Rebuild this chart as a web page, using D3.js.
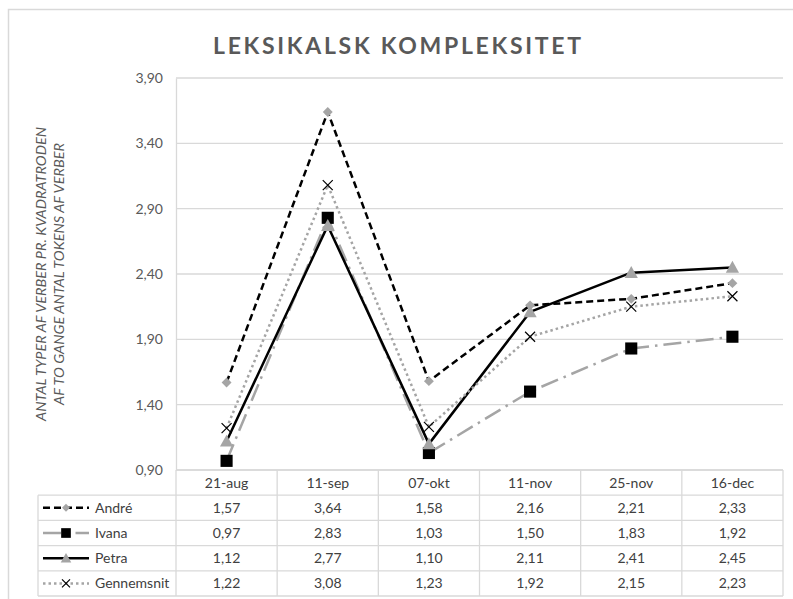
<!DOCTYPE html>
<html>
<head>
<meta charset="utf-8">
<script src="https://cdn.jsdelivr.net/npm/d3@7"></script>
<style>
  html, body { margin: 0; padding: 0; background: #fff; }
  svg { display: block; font-family: Lato, "Open Sans", sans-serif; }
</style>
</head>
<body>
<svg id="chart" width="793" height="599"></svg>
<script>
// Datoer for målingerne
const categories = ["21-aug", "11-sep", "07-okt", "11-nov", "25-nov", "16-dec"];

// Serier: antal typer af verber pr. kvadratroden af to gange antal tokens
const andre      = [1.57, 3.64, 1.58, 2.16, 2.21, 2.33];
const ivana      = [0.97, 2.83, 1.03, 1.50, 1.83, 1.92];
const petra      = [1.12, 2.77, 1.10, 2.11, 2.41, 2.45];
const gennemsnit = [1.22, 3.08, 1.23, 1.92, 2.15, 2.23];

const seriesNames = ["André", "Ivana", "Petra", "Gennemsnit"];
const yTicks = [0.9, 1.4, 1.9, 2.4, 2.9, 3.4, 3.9];

const GRAY = "#a5a5a5";
const GRID = "#d9d9d9";
const TEXT = "#595959";

const series = [
  { name: seriesNames[0], values: andre,      stroke: "#000", dash: "7,4",          cap: "butt",  marker: "diamond",  mfill: GRAY },
  { name: seriesNames[1], values: ivana,      stroke: GRAY,   dash: "18,6,2.5,6",   cap: "butt",  marker: "square",   mfill: "#000" },
  { name: seriesNames[2], values: petra,      stroke: "#000", dash: null,           cap: "butt",  marker: "triangle", mfill: GRAY },
  { name: seriesNames[3], values: gennemsnit, stroke: GRAY,   dash: "2.5,3",        cap: "butt",  marker: "x",        mfill: "#000" }
];

const svg = d3.select("#chart");

// Ydre ramme
svg.append("rect")
  .attr("x", 8.5).attr("y", 9.5).attr("width", 800).attr("height", 620)
  .attr("fill", "#fff").attr("stroke", GRID).attr("stroke-width", 1.5);

const plot = { left: 176, right: 783, top: 78, bottom: 470 };

const x = d3.scaleBand().domain(categories).range([plot.left, plot.right]);
const y = d3.scaleLinear().domain([0.9, 3.9]).range([plot.bottom, plot.top]);
const fmt = v => d3.format(".2f")(v).replace(".", ",");

// Titel
svg.append("text")
  .attr("x", 397).attr("y", 54)
  .attr("text-anchor", "middle")
  .attr("font-size", 23).attr("font-weight", 700)
  .attr("fill", TEXT)
  .attr("textLength", 368).attr("lengthAdjust", "spacing")
  .text("LEKSIKALSK KOMPLEKSITET");

// Gitterlinjer
svg.append("g")
  .selectAll("line")
  .data(yTicks)
  .join("line")
  .attr("x1", plot.left).attr("x2", plot.right)
  .attr("y1", d => y(d)).attr("y2", d => y(d))
  .attr("stroke", GRID).attr("stroke-width", 1.3);

// Y-akse
const yAxis = svg.append("g")
  .attr("transform", `translate(${plot.left},0)`)
  .call(d3.axisLeft(y).tickValues(yTicks).tickFormat(fmt).tickSize(0).tickPadding(13));
yAxis.select(".domain").attr("stroke", GRID).attr("stroke-width", 1.3);
yAxis.selectAll("text")
  .attr("font-family", "Lato, 'Open Sans', sans-serif")
  .attr("font-size", 14).attr("fill", TEXT);

// Y-aksetitel
const yTitle = svg.append("text")
  .attr("transform", `translate(46,${(plot.top + plot.bottom) / 2}) rotate(-90)`)
  .attr("text-anchor", "middle")
  .attr("font-size", 13.5).attr("font-style", "italic")
  .attr("fill", TEXT);
yTitle.append("tspan").attr("x", 0).attr("y", 0)
  .attr("textLength", 294).attr("lengthAdjust", "spacingAndGlyphs")
  .text("ANTAL TYPER AF VERBER PR. KVADRATRODEN");
yTitle.append("tspan").attr("x", 0).attr("y", 18)
  .attr("textLength", 262).attr("lengthAdjust", "spacingAndGlyphs")
  .text("AF TO GANGE ANTAL TOKENS AF VERBER");

// Markører
function drawMarker(g, type, fill, size) {
  if (type === "diamond") {
    const s = size * 0.55;
    g.append("path").attr("d", `M0,${-s}L${s},0L0,${s}L${-s},0Z`).attr("fill", fill);
  } else if (type === "square") {
    const s = size * 0.55;
    g.append("rect").attr("x", -s).attr("y", -s).attr("width", 2 * s).attr("height", 2 * s).attr("fill", fill);
  } else if (type === "triangle") {
    const s = size * 0.6;
    g.append("path").attr("d", `M0,${-s}L${s},${s * 0.8}L${-s},${s * 0.8}Z`).attr("fill", fill);
  } else if (type === "x") {
    const s = size * 0.5;
    g.append("path").attr("d", `M${-s},${-s}L${s},${s}M${-s},${s}L${s},${-s}`)
      .attr("stroke", fill).attr("stroke-width", 1.2).attr("fill", "none");
  }
}

const line = d3.line()
  .x((d, i) => x(categories[i]) + x.bandwidth() / 2)
  .y(d => y(d));

const markerSize = { diamond: 9, square: 11, triangle: 11, x: 10 };

series.forEach(s => {
  svg.append("path")
    .datum(s.values)
    .attr("d", line)
    .attr("fill", "none")
    .attr("stroke", s.stroke)
    .attr("stroke-width", 2.5)
    .attr("stroke-dasharray", s.dash)
    .attr("stroke-linecap", s.cap)
    .attr("stroke-linejoin", "round");
});
series.forEach(s => {
  s.values.forEach((v, i) => {
    const g = svg.append("g")
      .attr("transform", `translate(${x(categories[i]) + x.bandwidth() / 2},${y(v)})`);
    drawMarker(g, s.marker, s.mfill, markerSize[s.marker]);
  });
});

// Datatabel
const rowH = 25.2;
const tableTop = plot.bottom;
const legendLeft = 38;
const table = svg.append("g");

// Vandrette linjer
table.append("line")
  .attr("x1", plot.left).attr("x2", plot.right)
  .attr("y1", tableTop).attr("y2", tableTop)
  .attr("stroke", GRID).attr("stroke-width", 1.3);
d3.range(1, series.length + 2).forEach(r => {
  table.append("line")
    .attr("x1", legendLeft).attr("x2", plot.right)
    .attr("y1", tableTop + r * rowH).attr("y2", tableTop + r * rowH)
    .attr("stroke", GRID).attr("stroke-width", 1.3);
});
// Lodrette linjer
table.append("line")
  .attr("x1", legendLeft).attr("x2", legendLeft)
  .attr("y1", tableTop + rowH).attr("y2", tableTop + rowH * (series.length + 1))
  .attr("stroke", GRID).attr("stroke-width", 1.3);
categories.concat([null]).forEach((c, i) => {
  const xx = c ? x(c) : plot.right;
  table.append("line")
    .attr("x1", xx).attr("x2", xx)
    .attr("y1", tableTop).attr("y2", tableTop + rowH * (series.length + 1))
    .attr("stroke", GRID).attr("stroke-width", 1.3);
});

// Kolonneoverskrifter
table.selectAll("text.head")
  .data(categories)
  .join("text")
  .attr("class", "head")
  .attr("x", d => x(d) + x.bandwidth() / 2)
  .attr("y", tableTop + rowH / 2)
  .attr("dy", "0.35em")
  .attr("text-anchor", "middle")
  .attr("font-size", 14).attr("fill", "#404040")
  .text(d => d);

// Rækker med værdier og forklaring
series.forEach((s, r) => {
  const cy = tableTop + rowH * (r + 1.5);
  table.selectAll(null)
    .data(s.values)
    .join("text")
    .attr("x", (d, i) => x(categories[i]) + x.bandwidth() / 2)
    .attr("y", cy)
    .attr("dy", "0.35em")
    .attr("text-anchor", "middle")
    .attr("font-size", 14).attr("fill", "#404040")
    .text(d => fmt(d));

  // Forklaringssymbol
  table.append("line")
    .attr("x1", 43).attr("x2", 89)
    .attr("y1", cy).attr("y2", cy)
    .attr("stroke", s.stroke).attr("stroke-width", 2.5)
    .attr("stroke-dasharray", s.dash);
  const g = table.append("g").attr("transform", `translate(66,${cy})`);
  drawMarker(g, s.marker, s.mfill, markerSize[s.marker] * 0.8);

  table.append("text")
    .attr("x", 95).attr("y", cy)
    .attr("dy", "0.35em")
    .attr("font-size", 14).attr("fill", "#404040")
    .text(s.name);
});
</script>
</body>
</html>
